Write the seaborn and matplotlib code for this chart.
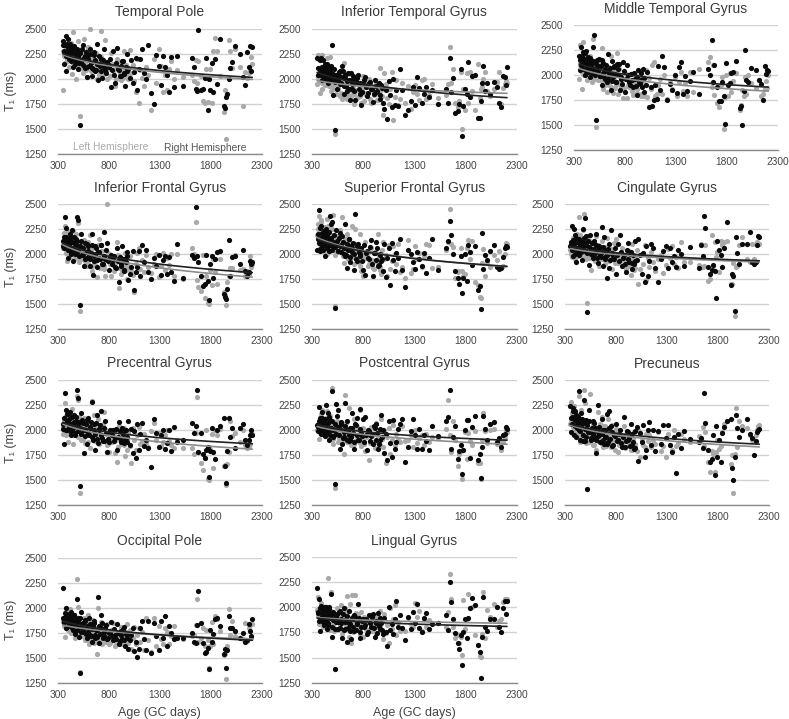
import matplotlib
matplotlib.use("Agg")
import matplotlib.pyplot as plt
import seaborn as sns
import pandas as pd

AGE = [350,360,370,378,386,394,402,410,418,426,
       434,442,450,460,470,480,490,500,510,520,
       532,545,558,570,582,595,608,620,632,645,
       658,670,682,695,708,720,735,750,765,780,
       800,820,840,860,880,900,915,930,945,960,
       975,990,1005,1020,1035,1050,1065,1080,1095,1110,
       1125,1140,1160,1180,1210,1240,1265,1290,1310,1330,
       1350,1370,1390,1410,1440,1470,1530,1610,1630,1650,
       1662,1675,1700,1725,1740,1755,1768,1780,1795,1810,
       1825,1840,1860,1890,1925,1940,1950,1962,1975,1990,
       2010,2040,2080,2110,2130,2150,2170,2185,2195,2205,
       355,365,382,390,398,406,414,422,430,438,
       446,455,465,475,485,495,505,515,525,538,
       552,565,576,588,600,614,626,638,652,664,
       676,688,702,714,728,742,758,772,790,810,
       830,850,870,890,908,922,938,952,968,982]

TP_R = [2380,2150,2340,2080,2430,2260,2400,2200,2350,2300,
        2180,2290,2120,2330,2150,2240,2280,2100,2200,1540,
        2160,2340,2210,2110,2020,2240,2130,2300,2030,2100,
        2270,2080,2350,1990,2150,2200,2010,2300,2090,2170,
        2120,1920,2280,1960,2310,2090,2030,2180,2060,1930,
        2250,2100,2010,2190,1960,2070,2210,1890,2100,2200,
        2300,2060,2000,2340,1860,1750,2240,2130,1940,2230,
        2120,2040,1870,2220,1920,2230,1930,2210,2120,1900,
        1880,2490,1890,1900,2010,2210,1690,2000,1890,2160,
        1870,2200,1950,2400,1730,1710,1820,1850,2000,2110,
        2170,2330,2250,2020,1940,2270,2120,2330,2080,2320,
        2340,2280,2230,2350,2310,2250,2290,2210,2330,2260,
        2200,2320,2270,2180,2300,2230,2160,2260,2190,2300,
        2140,2230,2270,2120,2200,2250,2160,2110,2240,2190,
        2090,2150,2230,2130,2080,2190,2120,2060,2150,2200,
        2090,2040,2160,2100,2030,2130,2180,2050,2120,2080]
TP_L = [1890,2260,2240,2300,2170,2340,2210,2120,2280,2360,
        2200,2050,2470,2130,2300,2000,2230,2380,2100,1630,
        2260,2060,2400,2160,2020,2320,2240,2500,2110,2200,
        2090,2260,2000,2160,2040,2480,2200,2100,2390,2000,
        2130,2260,2040,1930,2200,2080,1990,2150,2280,2040,
        2120,2000,2290,2060,2140,1980,1870,2200,1760,2090,
        2010,1930,2120,2040,1690,2200,1960,2300,2130,1870,
        2040,1890,2100,2180,2000,2090,2020,2040,1980,2190,
        1960,2180,2030,1780,1760,2100,1770,2000,2100,1760,
        2280,2410,2280,2030,1670,1890,1400,1850,2390,2280,
        2110,2300,2120,1730,2070,2010,2060,2090,2220,2150,
        2280,2230,2310,2200,2260,2330,2190,2290,2240,2170,
        2310,2210,2150,2270,2220,2130,2290,2180,2240,2110,
        2260,2170,2090,2210,2300,2140,2080,2230,2170,2120,
        2260,2100,2180,2060,2220,2130,2050,2170,2100,2030,
        2150,2090,2000,2120,2060,2170,2010,2090,2140,2050]

ITG_R = [2210,2040,2200,2100,2210,1990,2080,2190,2060,2120,
         2000,2070,2150,1960,2100,2020,2050,2340,1840,1490,
         2000,1900,2040,2080,1960,2130,1850,2010,1930,1880,
         1990,1790,2060,1900,2000,1790,1960,2040,1850,1740,
         1950,2020,1830,1960,1900,1770,1990,1870,1940,1800,
         1940,1760,1700,1890,1600,1980,1840,1720,2000,1740,
         1890,1730,2100,1890,1640,1690,1780,1920,1740,2020,
         1910,1760,1850,1920,1820,1890,1750,1900,1760,2210,
         1870,2010,1660,1680,1750,2100,1430,1730,1900,1850,
         2170,1820,2030,2040,1610,1610,1780,1960,2130,1880,
         1960,1850,1970,1920,1760,1720,2030,2020,1940,2120,
         2110,2060,2190,2040,2120,2070,2010,2090,2150,2030,
         2060,2110,2000,2080,2130,1990,2050,2100,1970,2040,
         1990,2070,1950,2020,2080,1930,2040,1980,2060,1900,
         1990,1950,2030,1880,1970,2010,1900,1960,1870,1990,
         1920,1860,1970,1900,1850,1930,1880,1960,1840,1910]
ITG_L = [1950,2240,2050,1860,2120,1900,2240,2020,2100,1960,
         2070,1990,2210,1970,2080,2220,1880,1920,2000,1450,
         1850,2000,1900,1830,2040,1800,2160,1950,1860,1800,
         2050,1900,1830,1980,1750,1890,2030,1820,1860,1760,
         2030,1850,1950,2000,1760,1880,1930,1850,1790,2110,
         1890,1640,2060,1950,1810,1750,1900,2070,1590,1820,
         1990,1740,1800,1960,1760,1930,1700,1870,1940,1850,
         1790,1990,2000,1800,1840,1950,1810,1840,1950,2320,
         1960,2100,1760,1720,1780,2070,1500,1900,1690,2060,
         1760,2070,1880,1690,2150,1810,1900,1920,2000,2070,
         1880,1830,1900,1970,2070,1750,1910,1950,1980,1960,
         2020,1980,2090,2040,1960,2110,2000,2060,1940,2030,
         1990,2080,1930,2020,2060,1960,1900,2010,1950,2040,
         1910,1980,2020,1860,1950,1820,1990,1900,1840,1960,
         1800,1880,1930,1850,1800,1950,1880,1830,1900,1780,
         1860,1920,1800,1890,1840,1950,1790,1870,1920,1830]

MTG_R = [2190,2050,2280,2170,2230,2130,2110,2000,2240,2090,
         2180,2030,2120,1980,2150,2070,2280,2400,2040,1550,
         2090,2160,1990,1900,2120,1980,2060,1930,2210,2000,
         1850,2140,1980,2080,1930,2110,2000,1850,1960,2130,
         1830,2100,1930,2010,1880,1960,1800,2050,1910,1950,
         2060,1830,1900,2030,1680,1880,1690,1750,1900,1760,
         2090,1850,2190,2080,1750,1910,1850,2000,1820,2080,
         2130,1810,1990,1840,1940,2030,1810,2060,2000,2350,
         1930,2100,1880,1740,1740,1930,1790,1510,2120,1900,
         1920,2020,2030,2140,1670,1690,1505,1840,2250,1950,
         1930,2070,2050,1950,1910,1750,2090,2010,2050,2040,
         2150,2100,2190,2060,2130,2220,2040,2160,2090,2130,
         2060,2170,2110,2020,2140,2060,2000,2110,2150,2040,
         1990,2090,2150,2020,1960,2100,2040,1960,2070,2010,
         1940,2090,2000,1930,2060,2110,1980,1910,2040,1960,
         2000,1900,1950,2020,1890,1980,1930,2020,1880,1970]
MTG_L = [1960,2300,2080,1860,2330,2040,2000,2210,2110,1950,
         2060,2130,2000,2190,2060,1930,2360,1960,2110,1480,
         1950,2020,2120,2270,1860,2000,1930,1830,2080,1900,
         2190,1980,1820,2040,1900,2220,1810,2000,1890,1770,
         1960,1770,1880,2010,1800,1960,1820,1930,1990,1790,
         1920,1790,2050,1780,1970,1860,2100,2130,1790,1810,
         1900,1960,1810,2000,1760,1930,1860,1980,1790,1930,
         2030,1840,1920,1790,2030,1830,2060,2130,2180,1880,
         2100,1800,1720,1680,1900,1980,1460,1780,2000,1790,
         2020,1830,1940,2020,1650,1700,1850,1790,1980,1810,
         2000,1920,1870,1950,1790,1810,1860,1940,1870,2000,
         2100,2040,2160,2010,2110,2070,2020,2180,2080,2010,
         2140,2060,2000,2110,2040,1960,2090,2030,1970,2070,
         2010,1950,2060,1980,1900,2030,1940,2080,1980,1880,
         2030,1950,1870,2000,1930,2060,1890,1960,1870,2010,
         1900,1950,1840,1920,2000,1860,1940,1810,1900,1970]

IFG_R = [2080,2170,2370,2090,2260,2150,1960,2130,2050,2170,
         2000,2240,1930,2110,2030,2150,2370,2340,2070,1495,
         2200,2000,1880,1950,2100,2030,1980,1880,2200,1790,
         1980,2080,1870,2020,1960,2090,1900,2220,1950,2110,
         1840,1990,1940,1870,2060,1720,1900,2080,1830,1950,
         2020,1740,1800,1870,2030,1640,1820,1870,2030,1780,
         2090,1920,2040,1820,1750,1960,1880,1990,1790,1940,
         1980,1800,1970,1820,1730,2100,1760,1990,1960,2470,
         1980,1920,1780,1680,1700,1990,1730,1540,1900,1980,
         1760,1950,2020,2030,1600,1570,1550,1650,2140,1780,
         1970,1980,1900,2040,1830,1780,1820,1930,1900,1920,
         2130,2060,2170,2110,2040,2150,2090,2200,2020,2120,
         2060,2170,2000,2090,2130,2030,1980,2080,2130,1990,
         2060,2110,1960,2020,2080,1950,2010,2090,1930,2000,
         2060,1940,2020,1950,2090,1900,1980,2040,1930,1960,
         1900,1980,1860,1930,1970,1880,1950,1840,1920,1980]
IFG_L = [2090,2210,2280,2050,2140,1930,2220,2080,2000,2170,
         2030,2130,2230,1950,2060,2200,1990,2310,1920,1430,
         2060,1950,2140,2020,1880,2120,1950,2190,1830,2070,
         1920,2000,1770,2090,2150,1950,2030,1880,1780,2500,
         2000,1780,1890,1950,2120,1660,1960,1840,1910,2010,
         1750,1860,1980,1830,1790,1620,1900,2010,2060,1850,
         1940,1820,1990,1870,1810,1900,2000,1770,1880,2010,
         1840,1960,1890,2000,1780,2000,1750,2060,2000,2320,
         1740,1670,1630,1990,1560,1780,1510,1500,1840,1690,
         1950,1820,1700,1950,1620,1590,1490,1720,1780,1860,
         1860,1990,1840,1850,1780,1830,1800,1980,1870,1900,
         2060,2140,2010,2100,2170,2040,1970,2120,2060,2000,
         2140,2030,2090,1960,2060,2010,2110,1950,2040,1990,
         2080,1930,2010,2060,1900,1970,2040,1880,1990,1930,
         1880,2010,1950,1860,2030,1920,1850,1970,2010,1900,
         1950,1830,1920,1990,1860,1800,1940,1880,1840,1900]

SFG_R = [2040,2150,2440,2030,2280,2100,2210,2040,2170,1980,
         2250,2060,2180,2110,2030,2380,2300,2320,2080,1460,
         2240,2130,2030,2210,2090,2180,2000,2300,1990,1860,
         2150,1920,2080,2020,1840,2400,1930,2100,2000,2060,
         1840,1790,2030,1950,2140,1780,2010,2120,1880,2000,
         1930,1830,2100,1770,1960,2060,1690,2110,1940,1830,
         2010,1960,2150,1840,1670,2040,2000,1920,1850,2020,
         1950,1880,2010,1810,1960,2150,1840,2060,2130,2330,
         2190,2000,1830,1760,1700,1980,1610,1760,2000,1730,
         2090,2020,1890,2080,1640,1680,1450,2210,1850,1990,
         1940,2030,2090,1870,1850,1860,1970,2060,2080,2070,
         2200,2110,2260,2060,2170,2120,2230,2090,2150,2200,
         2060,2140,2220,2090,2160,2040,2120,2190,2070,2100,
         2030,2160,2080,2020,2120,2060,1980,2100,2040,2150,
         1970,2060,2110,2000,1950,2080,2020,1980,1930,2090,
         2010,1960,2070,1900,2010,1940,2060,1890,1990,1950]
SFG_L = [2190,2300,2380,2060,2340,2130,2200,2030,2270,2150,
         2120,2350,2000,2280,2190,2100,2060,2250,2390,1480,
         2020,2160,2090,2240,2040,2370,1910,2150,2060,2200,
         1980,2110,1960,2280,2090,2250,2020,1920,2200,1830,
         1780,2120,2000,1900,2060,1860,2020,1930,2200,1840,
         1800,2120,1950,1990,1780,2090,1850,1930,2080,2000,
         1900,2100,1820,1870,1760,2140,1810,1850,2080,1950,
         2010,1870,1980,2100,2090,1860,1870,2040,2120,2450,
         2100,2070,1760,1820,1830,2060,1830,1780,1800,2060,
         2140,1950,2130,1720,1690,1570,1560,1910,2050,1780,
         1920,1870,1990,1940,2030,1870,1880,2000,2110,2100,
         2250,2130,2200,2320,2090,2170,2260,2040,2180,2110,
         2230,2080,2150,2030,2190,2100,2060,2150,1990,2100,
         2180,2020,2090,2120,1980,2060,2010,2130,1950,2040,
         2090,1970,2030,1900,2100,1960,2040,1880,2000,1950,
         1980,1880,2030,1940,1850,2010,1920,1970,1870,2040]

CG_R = [2080,2120,2280,1980,2250,2050,2190,1920,2130,2060,
        2140,1990,2110,2080,1940,2250,2110,2360,2180,1420,
        1890,2190,2050,1960,2130,2010,2200,1910,2060,1990,
        2270,1880,2170,1970,1760,2050,1860,2240,2000,1950,
        1800,2100,2190,1880,1990,1820,2110,1920,2020,1850,
        1900,2130,1940,2150,1990,1800,2010,1720,2080,1780,
        1930,2100,2060,1860,1720,1950,2030,2080,1860,2060,
        1920,1980,1870,2040,2000,1880,2070,1860,2090,1980,
        2380,2260,1870,1800,1840,1890,1830,1560,2130,2040,
        1990,1870,2060,2320,1690,1800,1780,1430,2170,2010,
        1900,2100,2100,2220,1920,1900,1920,2090,2180,2170,
        2090,2040,2140,2100,2000,2160,2060,2120,2030,2150,
        2090,2020,2120,2060,2160,2030,2090,2010,2130,2070,
        2000,2110,1980,2050,2090,1960,2030,2080,1970,2020,
        2070,1950,2040,1990,2100,1940,2010,1960,2060,1990,
        1930,2020,1960,1900,2040,1950,2000,1910,1990,1930]
CG_L = [2040,2000,1970,2160,2090,1950,2120,2040,2200,1980,
        2370,2050,2190,2100,2000,2240,2400,2060,1950,1510,
        2140,2010,1840,2100,1980,1930,2180,2050,1880,2000,
        2130,1950,2070,1900,2160,2030,1960,2050,1850,2110,
        2150,1910,1980,2060,1950,1850,1880,2030,1790,2100,
        1840,1960,2040,1700,1850,2000,1900,2090,1740,1960,
        1870,2020,1920,1830,1950,1990,1810,1890,2050,1960,
        2080,1900,1970,1860,2120,1920,1920,1890,2100,1870,
        1880,2090,1730,1750,2190,1880,2120,1970,2020,1820,
        2130,2090,2120,2130,1700,1700,1910,1385,1870,1880,
        2090,2170,1950,1920,2100,1950,2100,2120,2100,2100,
        2060,2110,2020,2090,2150,2040,1990,2100,2060,2010,
        2130,2050,1990,2090,2020,2140,1970,2070,2030,1960,
        2100,2010,2060,1950,2040,2000,2090,1940,2020,1980,
        2050,1960,2010,2070,1930,1990,1950,2030,1910,1980,
        2000,1940,1890,1980,1930,2020,1880,1960,1910,1860]

PCG_R = [2010,1860,2370,2200,2000,2160,2080,2020,2180,1950,
         2130,2000,2060,2150,1950,2090,2400,2320,2070,1440,
         2170,2070,1770,2000,1860,2120,1950,2020,2280,1900,
         2060,1800,2150,1870,2010,2190,1920,1890,2090,1780,
         1880,1970,2000,1920,1800,2080,1900,2020,1870,2000,
         1880,2090,1850,2010,1770,1990,1720,2060,1800,1960,
         2070,1840,1900,1820,1630,2110,1970,1830,1950,2000,
         1810,1870,2000,1790,2030,1880,1900,2070,1970,2040,
         2400,1780,1970,1760,1720,1800,1830,1530,1790,2020,
         1780,1710,2000,2040,2120,1640,1470,1790,2120,1930,
         2020,1820,2020,2060,1900,1850,1900,1950,2000,1950,
         2060,2120,2000,2090,2160,2040,2110,1990,2060,2130,
         2020,2080,1970,2130,2040,1990,2080,2020,1960,2100,
         2000,1940,2060,2100,1970,2030,2080,1930,2000,1960,
         2070,1910,2000,2050,1950,1890,2020,1970,1910,2000,
         1950,1890,2010,1930,1990,1880,1960,1900,2000,1930]
PCG_L = [1960,2000,2270,1950,2100,2050,1880,2180,2010,2090,
         1970,2210,1860,2000,2080,1980,2340,2300,2130,1370,
         1900,2030,2120,1870,1960,2060,2000,1820,2290,1960,
         2150,2020,1890,2110,2050,1960,1900,2180,2010,1850,
         1780,2000,1920,1770,1680,2040,1860,1950,2020,1740,
         1900,1980,1840,1670,2020,1900,1800,1950,2030,1860,
         1890,1960,1870,1830,1990,2070,1900,1970,1840,1880,
         1950,2000,1890,1850,1820,1900,1820,1820,1760,1970,
         2330,1780,1670,1600,1720,2000,1510,1500,1810,1960,
         1620,2000,1950,2010,1640,1650,1450,1660,1780,2090,
         1940,1970,1880,2000,1850,1820,1830,1860,1980,1960,
         2030,2090,2140,1990,2060,2110,1970,2050,2120,2010,
         2070,1950,2030,1990,2090,1930,2010,2060,1960,2000,
         1910,2050,1970,2020,1880,1960,2040,1930,1990,1890,
         2010,1930,1860,2000,1950,2060,1890,1960,1860,1930,
         1880,1970,1900,1830,1950,1890,1980,1850,1920,1800]

POC_R = [2050,1990,2230,2120,1960,2180,2080,2040,2100,1940,
         2250,2060,1990,2170,1900,2100,2000,2390,1940,1460,
         2260,2140,2200,1810,2060,1860,1930,2270,2000,2090,
         1890,2020,1930,2170,1810,2060,2120,1900,2210,1970,
         2110,2130,1800,1990,1940,1860,2020,2060,1810,1900,
         2150,2000,1770,1960,1700,2090,1870,1730,2100,1810,
         1880,2010,2060,2110,1680,1830,1990,2110,1950,1810,
         2010,1810,1950,1890,1800,2040,1940,2090,2130,2400,
         1810,1930,2040,1710,1790,1850,1560,1800,2000,2100,
         2100,1720,2030,2140,1700,1760,1520,1830,2140,2010,
         1900,2060,2080,1880,1920,1830,1950,1960,2030,2010,
         2030,2090,1990,2060,2120,2010,2070,1970,2110,2030,
         1980,2070,2130,1950,2020,2090,1930,2000,2060,1960,
         2030,1950,2010,2080,1920,1980,2040,1900,1990,1950,
         1900,2020,1970,1880,2050,1950,1900,2010,1940,1880,
         1950,2000,1890,1960,2040,1900,1970,1860,2010,1930]
POC_L = [2000,2040,1910,2100,2160,1960,2200,2030,2090,1980,
         2120,1940,2190,2050,1930,2140,2000,2420,1860,1420,
         1990,2090,1880,2050,1950,2010,1760,2350,2070,1920,
         2220,1950,1850,2000,2110,1890,2030,1900,2200,1840,
         2020,1790,1950,1700,2030,1880,1820,2070,1950,1850,
         2110,1830,2000,1670,1930,2020,1760,1900,2050,1850,
         1960,1900,1880,2040,1890,1900,1950,1830,2000,1870,
         1920,1950,1850,1960,1880,1930,1920,2010,2300,1950,
         1780,2090,1900,1640,1760,1790,1510,1800,1980,1710,
         1970,1890,1850,1990,1670,1670,1510,1900,2170,1990,
         1870,2000,2010,1860,1900,1800,1880,1920,2000,1980,
         2010,2070,1970,2040,2100,1990,2050,1950,2090,2010,
         1960,2040,2100,1930,2000,2060,1910,1980,2030,1950,
         2010,1920,1990,2050,1900,1960,2020,1880,1970,1930,
         1880,2000,1950,1860,2030,1930,1880,1990,1920,1860,
         1930,1980,1870,1940,2020,1880,1950,1840,1990,1910]

PRE_R = [2240,1980,2130,2220,1950,2100,2190,1930,2060,2130,
         2390,2000,1900,2170,2110,1890,2300,1890,2100,1410,
         2200,1980,1900,2090,1930,2020,1770,2250,1950,1880,
         2110,2000,1860,1930,2160,1880,2190,2040,1840,1950,
         2060,1900,2000,1830,2130,1890,1980,1920,2060,1850,
         1810,1990,2030,1690,1970,1880,2050,1730,1800,2000,
         2080,1850,2000,1790,1990,1860,2050,1920,2050,1850,
         1780,1930,1570,1960,1820,1990,1910,1880,1920,1820,
         2370,2070,1800,1680,1710,1950,1550,2040,1730,1900,
         1680,1970,2030,2090,2110,1620,1500,1730,2150,2020,
         1930,2000,2110,1960,1920,1750,1890,1980,2000,2010,
         2120,2060,2190,2110,2040,2150,2090,2020,2130,2080,
         1990,2110,2060,1950,2080,2010,1930,2050,1980,2090,
         1920,2020,1960,2070,1900,1990,1940,2030,1880,1960,
         1900,2000,1930,1860,2020,1910,1980,1850,1940,1890,
         1960,1870,1930,1830,1990,1900,1840,1960,1880,1820]
PRE_L = [2060,2280,1970,2120,2240,2040,1990,2160,2100,1950,
         2340,2060,1880,2200,1980,2100,2400,2270,1870,1410,
         1990,2360,1960,1850,2040,2000,1800,2180,1900,2060,
         2130,1830,1960,2040,1880,2110,1950,1830,2050,1900,
         2010,1780,1920,1860,2040,1960,1840,1950,1800,1910,
         1980,1860,1790,2000,1730,1900,1850,1830,1960,1890,
         1950,1830,1900,1860,1980,1790,1840,1730,1960,1850,
         1800,2000,1840,1870,1960,1910,1880,1940,1900,2030,
         1840,1980,1680,1580,1790,1760,1580,1780,1900,1810,
         1840,1980,2060,2090,1660,1750,1365,1760,2220,1830,
         2090,2040,2020,1950,1900,1900,1950,2000,2040,2050,
         2080,2170,2030,2110,2060,1990,2120,2040,1960,2070,
         2010,1940,2050,1980,2100,1920,2010,1950,2030,1880,
         1980,1910,2060,1850,1960,2020,1890,1940,1990,1860,
         2040,1920,1840,1970,1890,2010,1860,1930,1800,1900,
         1850,1950,1880,1820,1920,1970,1860,1800,1910,1840]

OP_R = [2200,1860,1950,1800,2000,1880,1930,1840,1900,1960,
        1820,1880,1780,1930,1740,1850,2090,1900,1710,1345,
        1960,1850,1760,1880,1700,1800,1900,1730,1660,1820,
        1870,1700,1780,2110,1650,1930,1850,1720,1800,1690,
        1750,1860,1680,1730,1840,1640,1770,1690,1810,1620,
        1740,1590,1680,1730,1800,1570,1660,1510,1590,1800,
        1870,1690,1580,1870,1550,1850,1720,1580,1870,1700,
        1920,1620,1820,1750,1690,1700,1700,1750,1660,1650,
        1830,2170,1850,1650,1550,1560,1600,1390,1780,1660,
        1740,1890,1900,1820,1540,1590,1400,1580,1920,1800,
        1800,1770,1700,1750,1660,1680,1840,1770,1720,1890,
        1900,1860,1930,1880,1820,1940,1890,1850,1910,1800,
        1870,1930,1830,1890,1780,1860,1810,1900,1760,1840,
        1790,1870,1740,1820,1760,1840,1720,1790,1850,1730,
        1780,1710,1820,1740,1800,1700,1760,1830,1700,1750,
        1720,1790,1690,1750,1670,1730,1790,1680,1740,1700]
OP_L = [1860,1900,1710,2000,1800,1950,1850,1780,1990,1860,
        1900,1760,1840,1930,1700,1880,2290,2010,1760,1360,
        1820,1720,1900,1680,1800,1930,1640,1860,1700,1880,
        1650,1760,1540,2000,1700,1860,1640,1750,1690,1840,
        1640,1780,1850,1620,1730,1680,1810,1640,1760,1720,
        1840,1650,1780,1590,1700,1810,1640,1730,1800,1660,
        1760,1580,1900,1680,1560,1900,1620,1820,1690,1640,
        1800,1760,1640,1720,1820,1700,1690,1720,1730,1830,
        2090,1660,1700,1800,1620,1780,1680,1400,1620,1860,
        1640,1920,1890,1770,1530,1540,1285,1620,1990,1730,
        1870,1720,1700,1690,1850,1670,1800,1830,1700,1840,
        1880,1820,1900,1840,1780,1920,1860,1810,1750,1870,
        1800,1900,1760,1830,1870,1740,1810,1850,1720,1790,
        1830,1700,1780,1860,1680,1760,1820,1700,1780,1660,
        1740,1800,1680,1750,1650,1720,1780,1660,1730,1650,
        1780,1690,1640,1740,1700,1790,1640,1710,1760,1670]

LG_R = [2190,1940,2080,1760,2010,1870,1980,1960,1820,1900,
        2000,1780,1930,1840,2000,1900,2130,1700,1950,1385,
        1850,1930,1780,1960,1840,1690,1990,1780,1880,1650,
        1960,1830,1680,1880,1760,1900,1830,2030,1690,1800,
        1880,1820,1730,1920,1800,1930,1700,1840,1940,1780,
        1840,1730,1890,1750,1610,2000,1770,1830,1730,1880,
        2060,1800,1920,1790,1670,1900,1780,1950,1840,2030,
        1790,1750,1890,1940,1780,1830,1840,1920,1770,2250,
        2050,1880,1740,1640,1590,1720,1430,1750,1880,1690,
        1890,1990,2090,2020,1620,1560,1300,1700,2100,1800,
        1760,1880,1880,2000,1800,1750,1990,2060,1930,2060,
        1950,1860,1990,1890,1930,1850,1970,1900,2000,1860,
        1950,1820,1980,1890,1940,1800,1870,1920,1780,1900,
        1850,1950,1790,1880,1930,1770,1850,1910,1790,1840,
        1760,1890,1800,1920,1770,1840,1890,1750,1860,1800,
        1880,1750,1840,1900,1790,1860,1740,1810,1890,1770]
LG_L = [1970,2100,1830,1940,2040,1880,2010,1800,1950,1860,
        2000,1910,1830,2290,1920,1770,2150,1950,1810,1390,
        1770,1990,1880,1820,2020,1730,1950,1990,1840,2110,
        1700,2030,1640,2120,1880,2120,1770,1930,1860,1950,
        1700,1840,1770,1880,1780,1830,1920,1730,1800,1960,
        1870,1680,1930,1740,1820,1640,1990,1780,1880,2020,
        1720,1850,1760,1790,1760,1890,1830,1800,2040,1900,
        1960,1760,1880,1800,1870,1840,1840,1800,1950,2330,
        2080,1800,1690,1720,1640,1700,1530,2070,1780,1880,
        2130,1990,2000,1720,1620,1520,1510,1730,2150,1690,
        1970,1900,2030,1800,1860,1880,2050,2080,2070,2080,
        1920,1990,1870,2030,1900,1960,1820,1930,1880,2000,
        1860,1940,1790,1900,1960,1830,1890,1760,1910,1850,
        1940,1790,1870,1920,1770,1900,1830,1960,1780,1860,
        1810,1900,1750,1850,1940,1790,1860,1730,1820,1900,
        1780,1850,1920,1760,1820,1880,1740,1900,1800,1850]

TITLES = ["Temporal Pole", "Inferior Temporal Gyrus", "Middle Temporal Gyrus",
          "Inferior Frontal Gyrus", "Superior Frontal Gyrus", "Cingulate Gyrus",
          "Precentral Gyrus", "Postcentral Gyrus", "Precuneus",
          "Occipital Pole", "Lingual Gyrus"]
RIGHT = [TP_R, ITG_R, MTG_R, IFG_R, SFG_R, CG_R, PCG_R, POC_R, PRE_R, OP_R, LG_R]
LEFT = [TP_L, ITG_L, MTG_L, IFG_L, SFG_L, CG_L, PCG_L, POC_L, PRE_L, OP_L, LG_L]
XTICKS = [300, 800, 1300, 1800, 2300]
YTICKS = [1250, 1500, 1750, 2000, 2250, 2500]

W, H = 789, 719
# left, right, top(2500), bottom(1250) in pixels
BOXES = [(57.7,262,28.7,154),(312,516.7,28.7,154),(574,778,25,150),
         (57.7,262,204.3,329.3),(312,516.7,204.3,329.3),(565,769,204.3,329.3),
         (57.7,262,380,505),(312,516.7,380,505),(565,769,380,505),
         (57.7,262,558,682.7),(312,516.7,557,682.7)]

sns.set_theme(style="white")
plt.rcParams['font.family'] = ['Liberation Sans', 'DejaVu Sans']
GRAY, BLACK = "#a9a9a9", "#0a0a0a"
TXT = "#444444"

fig = plt.figure(figsize=(W/100, H/100), dpi=100, facecolor="white")
for i, title in enumerate(TITLES):
    l, r, t, b = BOXES[i]
    ax = fig.add_axes([l/W, 1-b/H, (r-l)/W, (b-t)/H])
    for vals, color in ((LEFT[i], GRAY), (RIGHT[i], BLACK)):
        n = min(len(AGE), len(vals))
        df = pd.DataFrame({"age": AGE[:n], "t1": vals[:n]})
        sns.scatterplot(data=df, x="age", y="t1", color=color, s=14, linewidth=0,
                        ax=ax, clip_on=False, zorder=3)
    for vals, color in ((LEFT[i], "#8c8c8c"), (RIGHT[i], "#222222")):
        n = min(len(AGE), len(vals))
        df = pd.DataFrame({"age": AGE[:n], "t1": vals[:n]})
        sns.regplot(data=df, x="age", y="t1", scatter=False, logx=True, ci=None,
                    color=color, line_kws={"lw": 1.2, "zorder": 4}, ax=ax)
    ax.set_xlim(300, 2300)
    ax.set_ylim(1250, 2500)
    ax.set_xticks(XTICKS)
    ax.set_yticks(YTICKS)
    ax.tick_params(axis="both", length=0, labelsize=7.3, labelcolor=TXT)
    ax.tick_params(axis="x", pad=5)
    ax.tick_params(axis="y", pad=8)
    ax.grid(axis="y", color="#d2d2d2", lw=1.0, zorder=0)
    ax.set_axisbelow(True)
    for s in ("top", "left", "right"):
        ax.spines[s].set_visible(False)
    ax.spines["bottom"].set_color("#8a8a8a")
    ax.spines["bottom"].set_linewidth(1.0)
    ax.set_title(title, fontsize=10, color="#3a3a3a", pad=9)
    ax.set_xlabel("Age (GC days)" if i >= 9 else "", fontsize=9, color=TXT, labelpad=5)
    ax.set_ylabel("T₁ (ms)" if i % 3 == 0 else "", fontsize=9, color=TXT, labelpad=5)
    if i == 0:
        ax.text(822, 1320, "Left Hemisphere", color="#ababab", fontsize=7.4,
                ha="center", va="center")
        ax.text(1742, 1310, "Right Hemisphere", color="#555555", fontsize=7.4,
                ha="center", va="center")

fig.savefig("out.png", dpi=100)
